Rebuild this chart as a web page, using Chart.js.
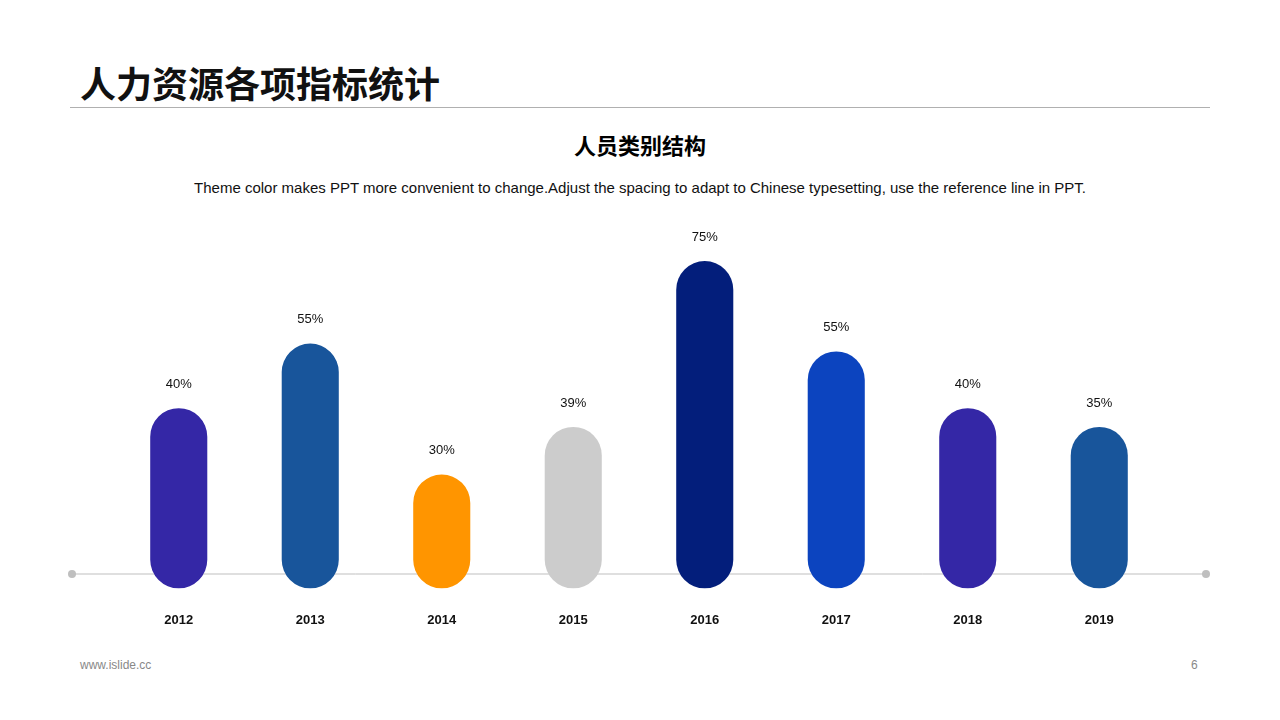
<!DOCTYPE html>
<html><head><meta charset="utf-8">
<script src="https://cdn.jsdelivr.net/npm/chart.js@4"></script>
<style>
body{margin:0;width:1280px;height:720px;position:relative;background:#fff;font-family:"Noto Sans CJK SC","Liberation Sans",Arial,sans-serif;overflow:hidden}
.abs{position:absolute}
#c{position:absolute;left:0;top:0}
</style></head><body>
<div class="abs" style="left:80px;top:58px;font-size:36px;font-weight:bold;color:#111;line-height:48px">人力资源各项指标统计</div>
<div class="abs" style="left:70px;top:107px;width:1140px;height:1px;background:#b0b0b0"></div>
<div class="abs" style="left:0;width:1280px;top:128px;text-align:center;font-size:22px;font-weight:bold;line-height:32px">人员类别结构</div>
<div class="abs" style="left:0;width:1280px;top:178px;text-align:center;font-size:15px;font-family:'Liberation Sans',Arial;line-height:20px;color:#111">Theme color makes PPT more convenient to change.Adjust the spacing to adapt to Chinese typesetting, use the reference line in PPT.</div>
<div class="abs" style="left:80px;top:658px;font-size:12px;color:#888;font-family:'Liberation Sans',Arial">www.islide.cc</div>
<div class="abs" style="left:1191px;top:658px;font-size:12px;color:#888;font-family:'Liberation Sans',Arial">6</div>
<canvas id="c" width="1280" height="720"></canvas>
<script>
const categories=["2012","2013","2014","2015","2016","2017","2018","2019"];
const barValues=[41.3,56.1,26.1,37,75,54.3,41.3,37];
const labelTexts=["40%","55%","30%","39%","75%","55%","40%","35%"];
const colors=["#3427A6","#18559B","#FF9500","#CCCCCC","#031E7B","#0C44BF","#3427A6","#18559B"];
const deco={id:'deco',
 beforeDatasetsDraw(ch){const c=ch.ctx;const y=574;c.save();c.strokeStyle='#bfbfbf';c.lineWidth=1;c.beginPath();c.moveTo(72,y);c.lineTo(1206,y);c.stroke();c.fillStyle='#bfbfbf';[72,1206].forEach(x=>{c.beginPath();c.arc(x,y,4,0,Math.PI*2);c.fill();});c.restore();},
 afterDatasetsDraw(ch){const c=ch.ctx;c.save();c.font='13px "Liberation Sans",Arial';c.fillStyle='#111';c.textAlign='center';c.textBaseline='middle';
  ch.getDatasetMeta(0).data.forEach((b,i)=>c.fillText(labelTexts[i],b.x,b.y-24));c.restore();}};
new Chart(document.getElementById('c'),{type:'bar',
 data:{labels:categories,datasets:[{data:barValues,backgroundColor:colors,borderRadius:29,borderSkipped:false,categoryPercentage:1,barPercentage:0.434}]},
 options:{responsive:false,animation:false,layout:{padding:{left:113,right:115,top:152,bottom:76}},
  plugins:{legend:{display:false},tooltip:{enabled:false}},
  scales:{x:{grid:{display:false},border:{display:false},ticks:{padding:16,color:'#111',font:{size:13,weight:'bold',family:'"Liberation Sans",Arial'}}},
   y:{display:false,min:0,max:100}}},
 plugins:[deco]});
</script></body></html>
